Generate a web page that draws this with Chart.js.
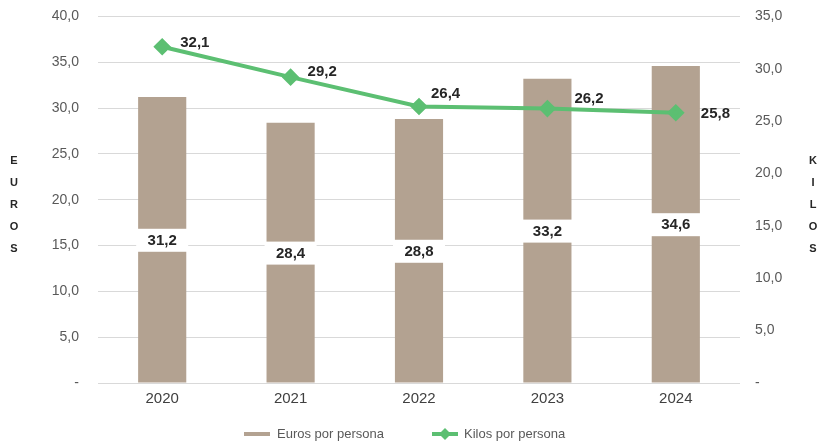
<!DOCTYPE html>
<html>
<head>
<meta charset="utf-8">
<script src="https://cdn.jsdelivr.net/npm/chart.js@4.4.1/dist/chart.umd.min.js"></script>
<style>
  html, body { margin: 0; padding: 0; background: #fff; overflow: hidden; }
  /* canvas is a bit taller and pulled up so the plot top lands where the original's does */
  #wrap { width: 825px; height: 456px; margin-top: -11px; }
</style>
</head>
<body>
<div id="wrap"><canvas id="myChart"></canvas></div>
<script>
// years + values
const years = ["2020", "2021", "2022", "2023", "2024"];
const eurosPorPersona = [31.2, 28.4, 28.8, 33.2, 34.6];
const kilosPorPersona = [32.1, 29.2, 26.4, 26.2, 25.8];

const BROWN = "#b3a291";
const GREEN = "#5cbf72";
const FONT = "'Liberation Sans', Arial, sans-serif";

// where each line label sits relative to its point (px), like in the original
const lineLabelOffsets = [[18, -4], [17, -5], [12, -13], [27, -10], [25, 1]];

function fmt(v) {
  if (v === 0) return "-";
  return v.toFixed(1).replace(".", ",");
}

// value labels: bars get a white box in the middle, line labels sit to the right
const valueLabels = {
  id: "valueLabels",
  afterDatasetsDraw(chart) {
    const ctx = chart.ctx;
    ctx.save();
    ctx.font = "bold 15px " + FONT;
    ctx.textBaseline = "middle";
    ctx.textAlign = "center";
    chart.getDatasetMeta(0).data.forEach((bar, i) => {
      const cy = (bar.y + bar.base) / 2;
      ctx.fillStyle = "#fff";
      ctx.fillRect(bar.x - 26, cy - 11, 52, 23);
      ctx.fillStyle = "#262626";
      ctx.fillText(fmt(eurosPorPersona[i]), bar.x, cy + 1);
    });
    ctx.textAlign = "left";
    chart.getDatasetMeta(1).data.forEach((pt, i) => {
      ctx.fillStyle = "#262626";
      const o = lineLabelOffsets[i];
      ctx.fillText(fmt(kilosPorPersona[i]), pt.x + o[0], pt.y + o[1]);
    });
    ctx.restore();
  },
};

// stacked axis titles + the bottom legend
const extras = {
  id: "extras",
  afterDraw(chart) {
    const ctx = chart.ctx;
    const a = chart.chartArea;
    const mid = (a.top + a.bottom) / 2 + 5;
    ctx.save();
    ctx.font = "bold 11px " + FONT;
    ctx.fillStyle = "#262626";
    ctx.textAlign = "center";
    ctx.textBaseline = "middle";
    "EUROS".split("").forEach((ch, i) => ctx.fillText(ch, 14, mid + (i - 2) * 22));
    "KILOS".split("").forEach((ch, i) => ctx.fillText(ch, 813, mid + (i - 2) * 22));

    // legend, under the x labels
    const ly = a.bottom + 51;
    ctx.font = "13px " + FONT;
    ctx.textAlign = "left";
    ctx.fillStyle = BROWN;
    ctx.fillRect(244, ly - 2, 26, 4);
    ctx.fillStyle = "#595959";
    ctx.fillText(chart.data.datasets[0].label, 277, ly);

    ctx.fillStyle = GREEN;
    ctx.fillRect(432, ly - 2, 26, 4);
    ctx.beginPath();
    ctx.moveTo(445, ly - 6); ctx.lineTo(451, ly); ctx.lineTo(445, ly + 6); ctx.lineTo(439, ly);
    ctx.closePath();
    ctx.fill();
    ctx.fillStyle = "#595959";
    ctx.fillText(chart.data.datasets[1].label, 464, ly);
    ctx.restore();
  },
};

new Chart(document.getElementById("myChart"), {
  data: {
    labels: years,
    datasets: [
      {
        type: "bar",
        label: "Euros por persona",
        data: eurosPorPersona,
        backgroundColor: BROWN,
        barPercentage: 0.375,
        categoryPercentage: 1,
        yAxisID: "euros",
        order: 2,
      },
      {
        type: "line",
        label: "Kilos por persona",
        data: kilosPorPersona,
        borderColor: GREEN,
        backgroundColor: GREEN,
        borderWidth: 4,
        pointStyle: "rectRot",
        pointRadius: 6,
        pointHoverRadius: 6,
        tension: 0,
        yAxisID: "kilos",
        order: 1,
      },
    ],
  },
  options: {
    responsive: true,
    maintainAspectRatio: false,
    animation: false,
    layout: { padding: { left: 0, right: 0, top: 0, bottom: 30 } },
    plugins: {
      tooltip: { enabled: false },
      legend: { display: false },
    },
    scales: {
      x: {
        grid: { display: false, drawTicks: false },
        border: { display: false },
        ticks: { color: "#404040", font: { family: FONT, size: 15 }, padding: 7 },
      },
      euros: {
        position: "left",
        min: 0,
        max: 40,
        afterFit(scale) { scale.width = 98; },
        ticks: {
          stepSize: 5,
          color: "#595959",
          font: { family: FONT, size: 14 },
          padding: 19,
          callback: (v) => fmt(v),
        },
        grid: { color: "#d9d9d9", drawTicks: false },
        border: { display: false },
      },
      kilos: {
        position: "right",
        min: 0,
        max: 35,
        afterFit(scale) { scale.width = 85; },
        ticks: {
          stepSize: 5,
          color: "#595959",
          font: { family: FONT, size: 14 },
          padding: 15,
          callback: (v) => fmt(v),
        },
        grid: { display: false, drawTicks: false },
        border: { display: false },
      },
    },
  },
  plugins: [valueLabels, extras],
});
</script>
</body>
</html>
